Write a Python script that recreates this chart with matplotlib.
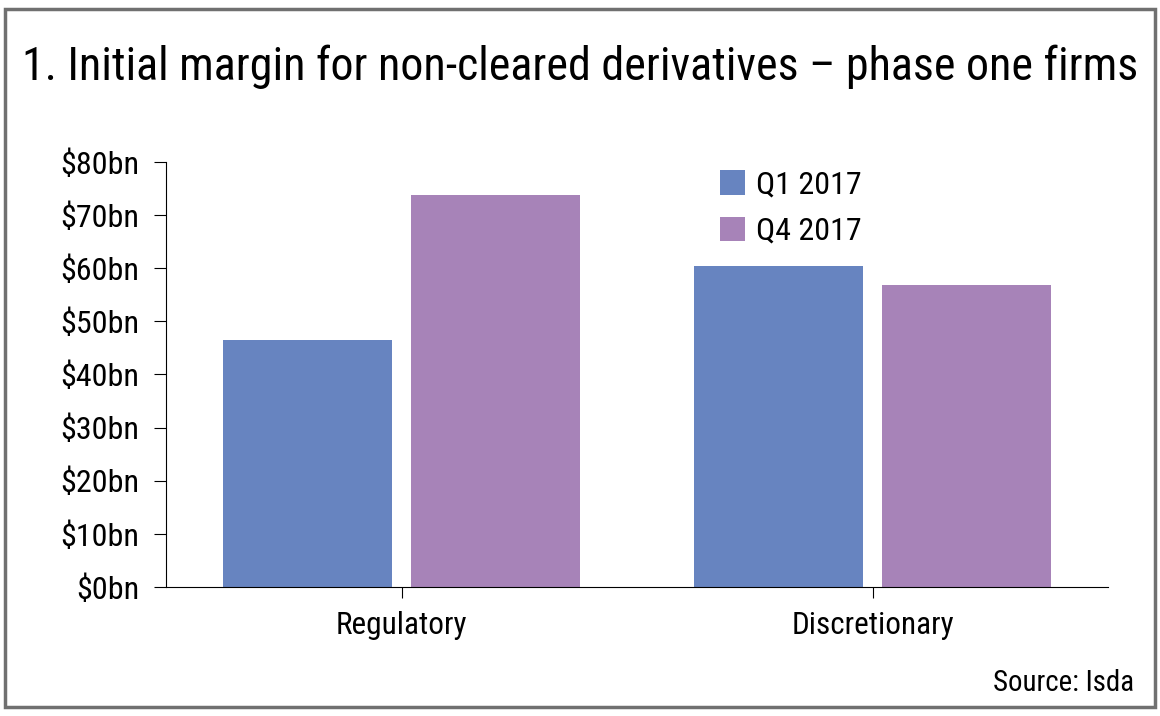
import matplotlib.pyplot as plt
from matplotlib.patches import Rectangle
import numpy as np

categories = ['Regulatory', 'Discretionary']
q1_2017 = [46.5, 60.5]
q4_2017 = [73.8, 56.8]
series_labels = ['Q1 2017', 'Q4 2017']
yticks = [0, 10, 20, 30, 40, 50, 60, 70, 80]

blue = '#6784c0'
purple = '#a783b8'

plt.rcParams['font.family'] = ['Roboto Condensed', 'Lato', 'DejaVu Sans']

fig = plt.figure(figsize=(11.6, 7.16), dpi=100)
# outer frame
fig.patches.append(Rectangle((0.004, 0.012), 0.992, 0.976, transform=fig.transFigure,
                             fill=False, edgecolor='#707070', linewidth=2.5))

ax = fig.add_axes([166 / 1160, 1 - 587 / 716, (1108 - 166) / 1160, (587 - 162) / 716])

x = np.arange(len(categories))
w = 0.36
ax.bar(x - 0.2, q1_2017, w, color=blue, label=series_labels[0])
ax.bar(x + 0.2, q4_2017, w, color=purple, label=series_labels[1])

ax.set_xlim(-0.5, 1.5)
ax.set_ylim(0, 80)
ax.set_yticks(yticks)
ax.set_yticklabels([f'${v}bn' for v in yticks], fontsize=23)
ax.set_xticks(x)
ax.set_xticklabels(categories, fontsize=22.5)
ax.tick_params(axis='y', length=9, width=0.8, pad=10)
ax.tick_params(axis='x', length=8, width=0.8, pad=9)
for s in ['top', 'right']:
    ax.spines[s].set_visible(False)
ax.spines['left'].set_linewidth(0.8)
ax.spines['bottom'].set_linewidth(0.8)

ax.legend(loc='upper left', bbox_to_anchor=(0.588, 0.98), frameon=False, fontsize=23,
          borderpad=0, borderaxespad=0,
          handlelength=0.78, handleheight=0.78, handletextpad=0.35, labelspacing=0.53)

title = fig.text(0.5, 0.888, '1. Initial margin for non-cleared derivatives \u2013 phase one firms',
                 ha='center', va='baseline', fontsize=32)
# shrink/grow title to span roughly the same width as in the original
fig.canvas.draw()
tw = title.get_window_extent().width
title.set_fontsize(32 * 1120 / tw)

fig.text(0.978, 0.035, 'Source: Isda', ha='right', va='baseline', fontsize=20.8)

fig.savefig('out.png', dpi=100)
